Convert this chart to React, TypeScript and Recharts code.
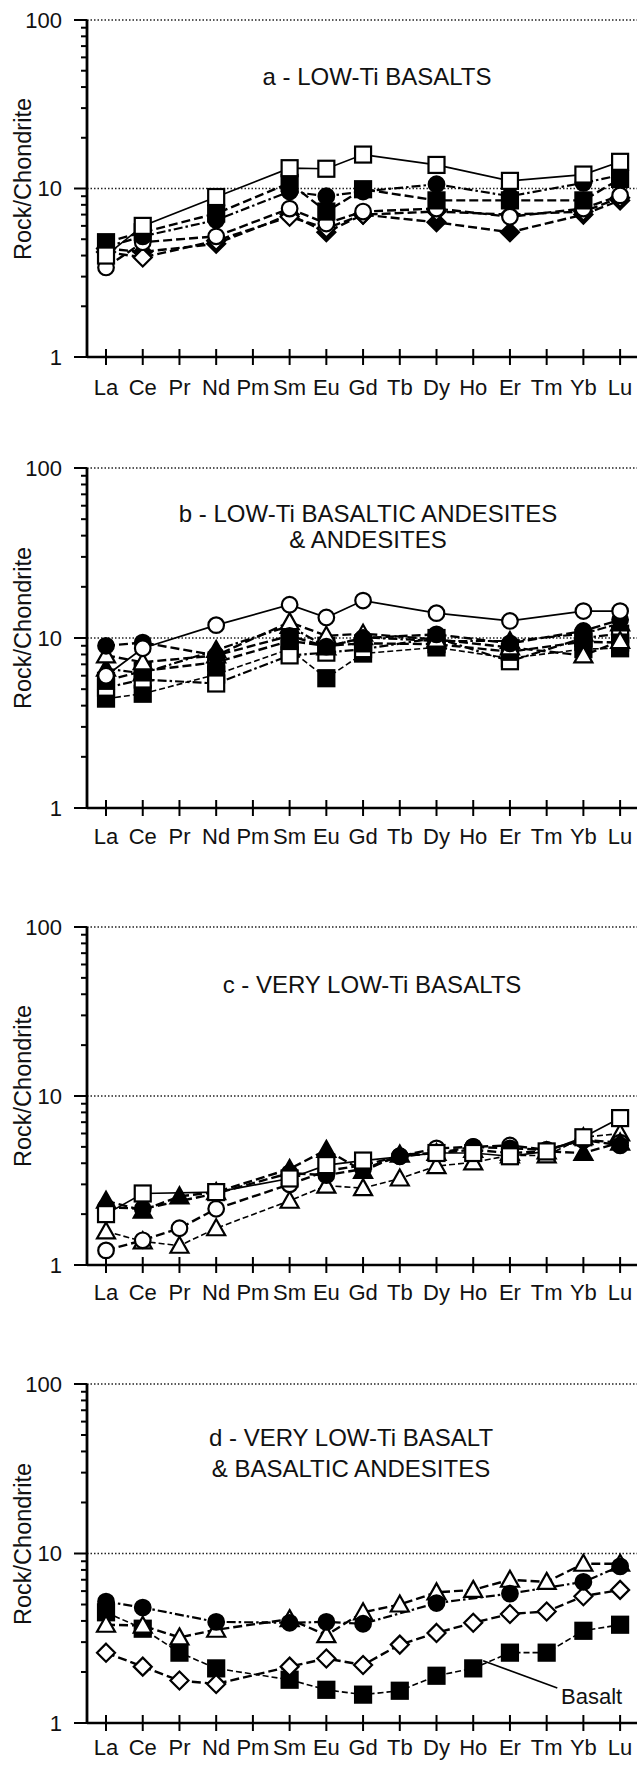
import React from 'react';
import { LineChart, Line, XAxis, YAxis, ReferenceLine, ReferenceDot } from 'recharts';

// Rare-earth elements in chondrite-normalised order
const ELEMENTS = ['La', 'Ce', 'Pr', 'Nd', 'Pm', 'Sm', 'Eu', 'Gd', 'Tb', 'Dy', 'Ho', 'Er', 'Tm', 'Yb', 'Lu'];
const IDX = ELEMENTS.map((_, i) => i);
const Y_TICKS = [1, 2, 3, 4, 5, 6, 7, 8, 9, 10, 20, 30, 40, 50, 60, 70, 80, 90, 100];
const Y_LABELS = [1, 10, 100];
const _ = null;

// a - low-Ti basalts
const A_OPEN_SQ = [4.0, 6.0, _, 8.9, _, 13.2, 13.1, 15.9, _, 13.8, _, 11.1, _, 12.1, 14.4];
const A_FILL_SQ = [4.8, 5.5, _, 7.1, _, 10.8, 7.3, 9.9, _, 8.5, _, 8.5, _, 8.5, 11.4];
const A_FILL_CI = [4.5, 5.2, _, 6.5, _, 9.6, 9.0, 9.6, _, 10.6, _, 9.0, _, 10.8, 12.0];
const A_OPEN_CI = [3.4, 4.8, _, 5.2, _, 7.6, 6.2, 7.3, _, 7.6, _, 6.8, _, 7.6, 9.1];
const A_OPEN_DI = [4.2, 3.9, _, 4.9, _, 6.8, 5.8, 7.0, _, 7.3, _, 7.0, _, 7.3, 8.8];
const A_FILL_DI = [4.4, 4.2, _, 4.7, _, 7.0, 5.5, 7.0, _, 6.3, _, 5.5, _, 7.0, 8.5];

// b - low-Ti basaltic andesites & andesites
const B_OPEN_CI = [6.0, 8.7, _, 11.9, _, 15.7, 13.2, 16.6, _, 14.0, _, 12.6, _, 14.4, 14.4];
const B_FILL_CI = [9.0, 9.4, _, 7.9, _, 10.3, 8.9, 10.0, _, 10.5, _, 9.3, _, 11.0, 12.8];
const B_OPEN_TR = [7.9, 7.2, _, 7.9, _, 12.4, 10.3, 10.6, _, 9.8, _, 8.8, _, 7.9, 9.6];
const B_FILL_TR = [6.6, 6.2, _, 8.5, _, 11.8, 8.8, 10.1, _, 9.6, _, 9.6, _, 10.6, 12.2];
const B_OPEN_SQ = [5.1, 5.7, _, 5.4, _, 7.9, 8.2, 8.6, _, 10.0, _, 7.3, _, 10.0, 10.6];
const B_FILL_SQ = [4.4, 4.7, _, 6.1, _, 8.6, 5.8, 8.1, _, 8.8, _, 7.6, _, 8.6, 8.7];
const B_FILL_SQ2 = [5.6, 6.4, _, 7.2, _, 9.6, 9.0, 9.3, _, 9.2, _, 8.3, _, 9.5, 9.4];

// c - very low-Ti basalts
const C_OPEN_SQ = [2.0, 2.65, _, 2.7, _, 3.25, 3.9, 4.15, _, 4.6, 4.6, 4.4, 4.7, 5.7, 7.4];
const C_FILL_TR = [2.4, 2.1, 2.55, 2.7, _, 3.7, 4.8, 3.6, 4.5, 4.6, 4.8, 4.6, 4.7, 4.6, 5.3];
const C_FILL_CI = [2.2, 2.15, _, 2.65, _, 3.5, 3.4, 3.7, 4.4, 4.6, 5.0, 4.9, 4.8, 5.5, 5.1];
const C_OPEN_CI = [1.22, 1.4, 1.65, 2.15, _, 3.0, 3.6, 3.9, 4.4, 4.9, 5.0, 5.1, 4.8, 5.5, 5.3];
const C_OPEN_TR = [1.58, 1.38, 1.3, 1.65, _, 2.4, 2.95, 2.85, 3.25, 3.85, 4.05, 4.45, 4.45, 5.7, 6.0];

// d - very low-Ti basalt & basaltic andesites
const D_FILL_CI = [5.2, 4.8, _, 3.95, _, 3.9, 3.95, 3.85, _, 5.1, _, 5.8, _, 6.8, 8.4];
const D_OPEN_TR = [3.8, 3.75, 3.2, 3.55, _, 4.1, 3.3, 4.5, 5.0, 5.9, 6.1, 7.0, 6.8, 8.7, 8.7];
const D_OPEN_DI = [2.6, 2.15, 1.78, 1.7, _, 2.15, 2.4, 2.2, 2.9, 3.4, 3.9, 4.4, 4.55, 5.6, 6.1];
const D_BASALT = [4.5, 3.6, 2.6, 2.1, _, 1.8, 1.57, 1.47, 1.55, 1.9, 2.1, 2.6, 2.6, 3.5, 3.8];

const FONT = '"Liberation Sans", Arial, Helvetica, sans-serif';
const AXIS_X = 87; // left edge of every plot area

type Kind = 'square' | 'circle' | 'diamond' | 'triangle';
type Style = 'solid' | 'dash' | 'dashdot' | 'fine';
interface Series { values: (number | null)[]; kind: Kind; filled: boolean; style: Style; }

const DASH: Record<Style, string | undefined> = {
  solid: undefined,
  dash: '9 4',
  dashdot: '9 3 2.5 3',
  fine: '6 3',
};
const WIDTH: Record<Style, number> = { solid: 1.7, dash: 2.4, dashdot: 2.2, fine: 1.6 };

function makeDot(kind: Kind, filled: boolean) {
  return (p: any) => {
    const { cx, cy, index, value } = p;
    if (value == null || cx == null || cy == null || Number.isNaN(cy)) return <g key={`n${index}`} />;
    const fill = filled ? '#000' : '#fff';
    const common = { fill, stroke: '#000', strokeWidth: 2.2 };
    if (kind === 'square') return <rect key={index} x={cx - 8} y={cy - 8} width={16} height={16} {...common} />;
    if (kind === 'circle') return <circle key={index} cx={cx} cy={cy} r={7.8} {...common} />;
    if (kind === 'diamond')
      return <polygon key={index} points={`${cx},${cy - 9} ${cx + 9},${cy} ${cx},${cy + 9} ${cx - 9},${cy}`} {...common} />;
    return <polygon key={index} points={`${cx},${cy - 9} ${cx + 9},${cy + 7} ${cx - 9},${cy + 7}`} {...common} />;
  };
}

const XTick = (props: any) => {
  const { x, y, payload, labelDy } = props;
  return (
    <g>
      <line x1={x} x2={x} y1={y - 8} y2={y + 8} stroke="#000" strokeWidth={2} />
      <text x={x} y={y + labelDy} textAnchor="middle" fontSize={22} fontFamily={FONT} fill="#111">
        {ELEMENTS[payload.value]}
      </text>
    </g>
  );
};

// tick marks only; the decade numbers are attached to reference lines below
const YTick = (props: any) => {
  const { y, payload } = props;
  const major = Y_LABELS.includes(payload.value);
  return <line x1={AXIS_X - (major ? 13 : 6)} x2={AXIS_X} y1={y} y2={y} stroke="#000" strokeWidth={2} />;
};

const decadeLabel = (value: number) => ({
  value: String(value),
  position: 'left' as const,
  offset: 25,
  fontSize: 22,
  fontFamily: FONT,
  fill: '#111',
});

interface Layout {
  top: number; // y of the 100 line
  plotH: number;
  labelDy: number;
  title: string[];
  titleX: number;
  titleY: number[];
}

function Panel({ layout, series, children }: { layout: Layout; series: Series[]; children?: React.ReactNode }) {
  const rows = IDX.map((i) => {
    const r: Record<string, number | null> = { i };
    series.forEach((s, k) => (r[`s${k}`] = s.values[i]));
    return r;
  });
  const h = 20 + layout.plotH + 50;
  const midY = layout.top + layout.plotH / 2 - 10;
  return (
    <>
      <div style={{ position: 'absolute', left: 0, top: layout.top - 20, width: 637, height: h }}>
        <LineChart width={637} height={h} data={rows} margin={{ top: 20, right: 0, bottom: 0, left: 0 }}>
          <XAxis
            type="number"
            dataKey="i"
            domain={[-0.518, 14.46]}
            ticks={IDX}
            interval={0}
            allowDataOverflow
            tickSize={0}
            tickMargin={0}
            tickLine={false}
            axisLine={{ stroke: '#000', strokeWidth: 2.5 }}
            tick={<XTick labelDy={layout.labelDy} />}
            height={50}
          />
          <YAxis
            type="number"
            scale="log"
            domain={[1, 100]}
            ticks={Y_TICKS}
            interval={0}
            allowDataOverflow
            tickSize={0}
            tickMargin={0}
            tickLine={false}
            axisLine={{ stroke: '#000', strokeWidth: 2.8 }}
            tick={<YTick />}
            width={AXIS_X}
          />
          <ReferenceLine y={100} stroke="#222" strokeWidth={1.6} strokeDasharray="1.5 2" label={decadeLabel(100)} />
          <ReferenceLine y={10} stroke="#222" strokeWidth={1.6} strokeDasharray="1.5 2" label={decadeLabel(10)} />
          <ReferenceLine y={1} stroke="none" label={decadeLabel(1)} />
          {series.map((s, k) => (
            <Line
              key={k}
              dataKey={`s${k}`}
              type="linear"
              stroke="#000"
              strokeWidth={WIDTH[s.style]}
              strokeDasharray={DASH[s.style]}
              dot={makeDot(s.kind, s.filled)}
              activeDot={false}
              connectNulls
              isAnimationActive={false}
            />
          ))}
          {children}
        </LineChart>
      </div>
      <div
        style={{
          position: 'absolute',
          left: 23 - 120,
          top: midY - 14,
          width: 240,
          height: 28,
          lineHeight: '28px',
          textAlign: 'center',
          transform: 'rotate(-90deg)',
          fontFamily: FONT,
          fontSize: 23.5,
          color: '#111',
        }}
      >
        Rock/Chondrite
      </div>
      {layout.title.map((t, k) => (
        <div
          key={k}
          style={{
            position: 'absolute',
            left: layout.titleX - 300,
            top: layout.titleY[k] - 15,
            width: 600,
            height: 30,
            lineHeight: '30px',
            textAlign: 'center',
            fontFamily: FONT,
            fontSize: 24,
            color: '#111',
            whiteSpace: 'nowrap',
          }}
        >
          {t}
        </div>
      ))}
    </>
  );
}

const PANEL_A: Series[] = [
  { values: A_FILL_DI, kind: 'diamond', filled: true, style: 'dash' },
  { values: A_OPEN_DI, kind: 'diamond', filled: false, style: 'dash' },
  { values: A_OPEN_CI, kind: 'circle', filled: false, style: 'dash' },
  { values: A_FILL_CI, kind: 'circle', filled: true, style: 'dashdot' },
  { values: A_FILL_SQ, kind: 'square', filled: true, style: 'dash' },
  { values: A_OPEN_SQ, kind: 'square', filled: false, style: 'solid' },
];
const PANEL_B: Series[] = [
  { values: B_FILL_SQ, kind: 'square', filled: true, style: 'fine' },
  { values: B_OPEN_SQ, kind: 'square', filled: false, style: 'dashdot' },
  { values: B_FILL_SQ2, kind: 'square', filled: true, style: 'dash' },
  { values: B_FILL_TR, kind: 'triangle', filled: true, style: 'dashdot' },
  { values: B_OPEN_TR, kind: 'triangle', filled: false, style: 'dash' },
  { values: B_FILL_CI, kind: 'circle', filled: true, style: 'dash' },
  { values: B_OPEN_CI, kind: 'circle', filled: false, style: 'solid' },
];
const PANEL_C: Series[] = [
  { values: C_OPEN_TR, kind: 'triangle', filled: false, style: 'fine' },
  { values: C_OPEN_CI, kind: 'circle', filled: false, style: 'dash' },
  { values: C_FILL_CI, kind: 'circle', filled: true, style: 'dash' },
  { values: C_FILL_TR, kind: 'triangle', filled: true, style: 'dash' },
  { values: C_OPEN_SQ, kind: 'square', filled: false, style: 'solid' },
];
const PANEL_D: Series[] = [
  { values: D_BASALT, kind: 'square', filled: true, style: 'fine' },
  { values: D_OPEN_DI, kind: 'diamond', filled: false, style: 'dash' },
  { values: D_OPEN_TR, kind: 'triangle', filled: false, style: 'dash' },
  { values: D_FILL_CI, kind: 'circle', filled: true, style: 'dashdot' },
];

const LAYOUT_A: Layout = { top: 20, plotH: 337, labelDy: 38, title: ['a - LOW-Ti BASALTS'], titleX: 377, titleY: [77] };
const LAYOUT_B: Layout = {
  top: 468, plotH: 340, labelDy: 36,
  title: ['b - LOW-Ti BASALTIC ANDESITES', '& ANDESITES'], titleX: 368, titleY: [514, 540],
};
const LAYOUT_C: Layout = { top: 927, plotH: 338, labelDy: 35, title: ['c - VERY LOW-Ti BASALTS'], titleX: 372, titleY: [985] };
const LAYOUT_D: Layout = {
  top: 1384, plotH: 339, labelDy: 32,
  title: ['d - VERY LOW-Ti BASALT', '& BASALTIC ANDESITES'], titleX: 351, titleY: [1438, 1469],
};

export default function App() {
  return (
    <div style={{ position: 'absolute', left: 0, top: 0, width: 637, height: 1769, background: '#fff', overflow: 'hidden' }}>
      <Panel layout={LAYOUT_A} series={PANEL_A} />
      <Panel layout={LAYOUT_B} series={PANEL_B} />
      <Panel layout={LAYOUT_C} series={PANEL_C} />
      <Panel layout={LAYOUT_D} series={PANEL_D}>
        <ReferenceLine
          segment={[{ x: 10.27, y: 2.33 }, { x: 12.29, y: 1.61 }]}
          stroke="#000"
          strokeWidth={1.6}
          ifOverflow="visible"
        />
        <ReferenceDot
          x={12.39}
          y={1.445}
          ifOverflow="visible"
          shape={(p: any) => (
            <text x={p.cx} y={p.cy} dy="0.36em" textAnchor="start" fontSize={22} fontFamily={FONT} fill="#111">
              Basalt
            </text>
          )}
        />
      </Panel>
    </div>
  );
}
